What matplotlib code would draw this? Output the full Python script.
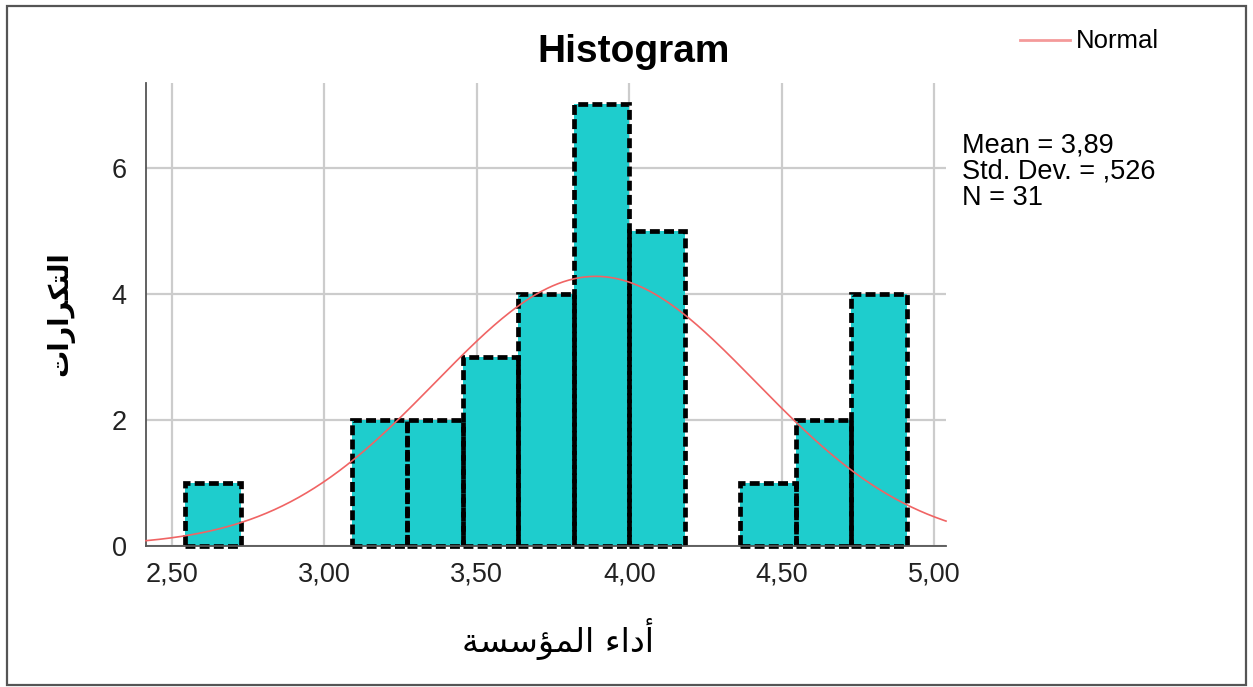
import numpy as np
import matplotlib.pyplot as plt
from matplotlib.patches import Rectangle

# histogram bins (left edge) and frequencies, bins of width 2/11
bin_left = [2.545, 3.091, 3.273, 3.455, 3.636, 3.818, 4.000, 4.364, 4.545, 4.727]
counts = [1, 2, 2, 3, 4, 7, 5, 1, 2, 4]
bin_width = 2 / 11

mean = 3.89
std = 0.526
n = 31

x_ticks = [2.5, 3.0, 3.5, 4.0, 4.5, 5.0]
x_tick_labels = ["2,50", "3,00", "3,50", "4,00", "4,50", "5,00"]
y_ticks = [0, 2, 4, 6]

# Arabic labels written in shaped presentation forms (visual order)
x_label = "\uFE94\uFEB4\uFEB3\uFE86\uFEE4\uFEDF\uFE8D \uFE80\uFE8D\uFEA9\uFE83"   # أداء المؤسسة
y_label = "\uFE95\uFE8D\uFEAD\uFE8D\uFEAE\uFEDC\uFE98\uFEDF\uFE8D"             # التكرارات

plt.rcParams["font.family"] = ["Liberation Sans", "DejaVu Sans"]

fig = plt.figure(figsize=(12.53, 6.87), dpi=100)
ax = fig.add_axes([146 / 1253, 141 / 687, 800 / 1253, 463 / 687])

ax.set_xlim(2.416, 5.038)
ax.set_ylim(0, 7.34)

# fills first, then the dashed outlines on top so shared edges stay visible
ax.bar(bin_left, counts, width=bin_width, align="edge", color="#1ECDCD",
       linewidth=0, zorder=2)
outlines = ax.bar(bin_left, counts, width=bin_width, align="edge", fill=False,
                  edgecolor="black", linewidth=3.4, linestyle=(0, (2.1, 0.9)), zorder=2.5)
for p in outlines:
    p.set_clip_on(False)

xs = np.linspace(2.416, 5.038, 300)
ys = n * bin_width * np.exp(-0.5 * ((xs - mean) / std) ** 2) / (std * np.sqrt(2 * np.pi))
ax.plot(xs, ys, color="#F06464", linewidth=1.2, zorder=3, clip_on=False)

ax.set_xticks(x_ticks)
ax.set_xticklabels(x_tick_labels)
ax.set_yticks(y_ticks)
ax.tick_params(length=0, labelsize=19.5, colors="#222222")
ax.tick_params(axis="x", pad=11)
ax.tick_params(axis="y", pad=14)

ax.grid(True, color="#CCCCCC", linewidth=1.6, zorder=0)
ax.set_axisbelow(True)
for s in ["top", "right"]:
    ax.spines[s].set_visible(False)
for s in ["left", "bottom"]:
    ax.spines[s].set_color("#555555")
    ax.spines[s].set_linewidth(1.3)

fig.text(634 / 1253, 1 - 52 / 687, "Histogram", ha="center", va="center",
         fontsize=28, fontweight="bold")

fig.text(558 / 1253, 1 - 639 / 687, x_label, ha="center", va="center",
         fontsize=24, family="DejaVu Sans")
fig.text(60 / 1253, 1 - 314 / 687, y_label, ha="center", va="center",
         fontsize=19.5, rotation=90, family="DejaVu Sans", fontweight="bold")

# legend
fig.add_artist(plt.Line2D([1020 / 1253, 1070 / 1253], [1 - 40 / 687] * 2,
                          color="#F49A9A", linewidth=2))
fig.text(1076 / 1253, 1 - 41 / 687, "Normal", ha="left", va="center", fontsize=18.5)

stats = ["Mean = 3,89", "Std. Dev. = ,526", "N = 31"]
for i, s in enumerate(stats):
    fig.text(962 / 1253, 1 - (146 + 26 * i) / 687, s, ha="left", va="center", fontsize=19.5)

fig.add_artist(Rectangle((7 / 1253, 2 / 687), 1239 / 1253, 679 / 687,
                         transform=fig.transFigure, fill=False,
                         edgecolor="#555555", linewidth=1.6))

fig.savefig("out.png", dpi=100)
